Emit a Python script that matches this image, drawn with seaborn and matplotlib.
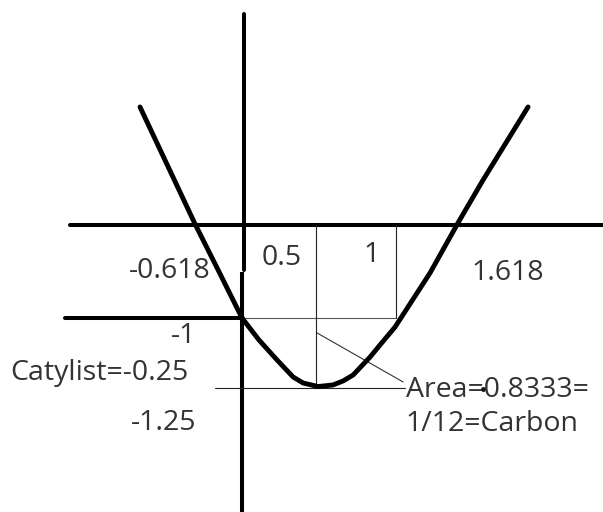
import matplotlib
matplotlib.use("Agg")
import matplotlib.pyplot as plt
import seaborn as sns
import pandas as pd

sns.set_theme(style="white")
plt.rcParams["font.family"] = ["Open Sans", "DejaVu Sans"]

# Hand-sketched parabola y = x^2 - x - 1, traced as drawn
curve_x = [-0.678, -0.316, -0.164, -0.007, 0.105, 0.224, 0.329, 0.395, 0.493, 0.592,
           0.658, 0.724, 0.836, 0.901, 1.000, 1.230, 1.414, 1.579, 1.875]
curve_y = [1.269, 0.011, -0.484, -1.000, -1.237, -1.452, -1.634, -1.699, -1.737, -1.720,
           -1.677, -1.613, -1.419, -1.290, -1.097, -0.516, 0.022, 0.484, 1.269]

# Axes of the sketch (the vertical stroke is drawn in two pieces)
x_axis_span = [-1.138, 2.368]
y_axis_upper = [2.269, -0.484]
y_axis_lower = [-0.505, -3.10]
minus_one_span = [-1.171, 0.0]

# Guide lines
vertex_x = 0.480
vertex_y = -1.731
one_x = 1.007
floor_y = -1.753
floor_span = [-0.184, 1.066]
pointer_x = [0.487, 1.053]
pointer_y = [-1.161, -1.688]

# Labels: (text, x, baseline y)
labels = [
    ("-0.618", -0.750, -0.570),
    ("0.5", 0.125, -0.430),
    ("1", 0.790, -0.398),
    ("1.618", 1.500, -0.591),
    ("-1", -0.475, -1.269),
    ("Catylist=-0.25", -1.530, -1.667),
    ("-1.25", -0.740, -2.204),
    ("Area=0.8333=", 1.070, -1.849),
    ("1/12=Carbon", 1.070, -2.215),
]

fig = plt.figure(figsize=(6.03, 5.12), dpi=100)
ax = fig.add_axes([0, 0, 1, 1])

ink = "#000000"
thick = 2.9
thin = 0.8

# main axes
ax.plot(x_axis_span, [0, 0], color=ink, lw=thick, solid_capstyle="round")
ax.plot([0.006, 0.006], y_axis_upper, color=ink, lw=thick, solid_capstyle="round")
ax.plot([-0.004, -0.004], y_axis_lower, color=ink, lw=thick, solid_capstyle="butt")
ax.plot(minus_one_span, [-1, -1], color=ink, lw=thick, solid_capstyle="round")

# thin construction lines
ax.plot([0, one_x], [-1, -1], color="#555555", lw=thin)
ax.plot([vertex_x, vertex_x], [0, vertex_y], color="#222222", lw=thin)
ax.plot([one_x, one_x], [0, -1], color="#222222", lw=thin)
ax.plot(floor_span, [floor_y, floor_y], color="#222222", lw=thin)
ax.plot(pointer_x, pointer_y, color="#333333", lw=thin)

# the parabola
df = pd.DataFrame({"x": curve_x, "y": curve_y})
sns.lineplot(data=df, x="x", y="y", sort=False, estimator=None, color=ink,
             lw=3.5, ax=ax, solid_capstyle="round", solid_joinstyle="round")

ax.set_xlim(-1.599, 2.368)
ax.set_ylim(-3.086, 2.419)
ax.axis("off")

for text, tx, ty in labels:
    ax.text(tx, ty, text, ha="left", va="baseline", fontsize=20.5, color="#333333")

ax.plot([1.579], [-1.763], "o", color="#111111", ms=2.5)

fig.savefig("out.png", dpi=100)
